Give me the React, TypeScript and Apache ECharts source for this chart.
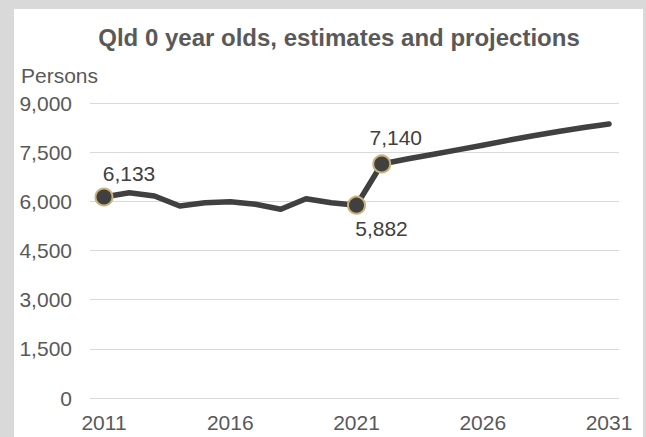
import React, { useEffect, useRef } from "react";
import * as echarts from "echarts";

const years: number[] = [2011, 2012, 2013, 2014, 2015, 2016, 2017, 2018, 2019, 2020, 2021, 2022, 2023, 2024, 2025, 2026, 2027, 2028, 2029, 2030, 2031];
const persons: number[] = [6133, 6264, 6164, 5858, 5959, 5990, 5910, 5758, 6081, 5959, 5882, 7140, 7290, 7430, 7570, 7710, 7860, 8000, 8130, 8250, 8360];
const xTickYears: number[] = [2011, 2016, 2021, 2026, 2031];
const highlighted: number[] = [2011, 2021, 2022];
const titleText = "Qld 0 year olds, estimates and projections";
const yAxisTitle = "Persons";

const FONT = "Liberation Sans, Arial, sans-serif";

export default function App() {
  const ref = useRef<HTMLDivElement>(null);
  useEffect(() => {
    document.body.style.margin = "0";
    if (!ref.current) return;
    const chart = echarts.init(ref.current, null, { renderer: "svg" });
    const labelOffsets: Record<number, any> = {
      2011: { position: "top", distance: 3, offset: [25, 0] },
      2021: { position: "bottom", distance: 3, offset: [25, 0] },
      2022: { position: "top", distance: 6, offset: [14, 0] },
    };
    const data = years.map((y, i) => {
      if (highlighted.includes(y)) {
        return {
          value: [y, persons[i]],
          symbol: "circle",
          symbolSize: 17,
          itemStyle: { color: "#404040", borderColor: "#c9b27e", borderWidth: 2 },
          label: {
            show: true,
            ...labelOffsets[y],
            formatter: (p: any) => p.value[1].toLocaleString("en-US"),
            color: "#404040",
            fontSize: 21,
            fontFamily: FONT,
          },
        };
      }
      return { value: [y, persons[i]], symbol: "none" };
    });
    chart.setOption({
      animation: false,
      backgroundColor: "transparent",
      grid: { left: 90, right: 27, top: 103, bottom: 39 },
      graphic: [
        {
          type: "text",
          x: 339,
          y: 37,
          style: {
            text: titleText,
            align: "center",
            verticalAlign: "middle",
            fill: "#595959",
            font: `bold 24px ${FONT}`,
          },
        },
        {
          type: "text",
          x: 21,
          y: 75,
          style: {
            text: yAxisTitle,
            align: "left",
            verticalAlign: "middle",
            fill: "#595959",
            font: `21px ${FONT}`,
          },
        },
      ],
      xAxis: {
        type: "value",
        min: 2010.446,
        max: 2031.396,
        axisLine: { show: false },
        axisTick: { show: false },
        splitLine: { show: false },
        axisLabel: {
          customValues: xTickYears,
          formatter: (v: number) => String(Math.round(v)),
          color: "#595959",
          fontSize: 21,
          fontFamily: FONT,
          margin: 14,
        },
      },
      yAxis: {
        type: "value",
        min: 0,
        max: 9000,
        interval: 1500,
        axisLine: { show: false },
        axisTick: { show: false },
        splitLine: { lineStyle: { color: "#d9d9d9", width: 1 } },
        axisLabel: {
          formatter: (v: number) => v.toLocaleString("en-US"),
          color: "#595959",
          fontSize: 21,
          fontFamily: FONT,
          margin: 18,
        },
      },
      series: [
        {
          type: "line",
          data,
          showSymbol: true,
          showAllSymbol: true,
          symbol: "none",
          lineStyle: { color: "#404040", width: 5.5, cap: "round", join: "round" },
          itemStyle: { color: "#404040" },
          z: 3,
        },
      ],
    });
    return () => chart.dispose();
  }, []);
  return (
    <div style={{ position: "relative", width: 646, height: 437, background: "#d9d9d9", overflow: "hidden" }}>
      <div style={{ position: "absolute", left: 14, top: 9, width: 629, height: 428, background: "#ffffff" }} />
      <div ref={ref} style={{ position: "absolute", left: 0, top: 0, width: 646, height: 437 }} />
    </div>
  );
}
